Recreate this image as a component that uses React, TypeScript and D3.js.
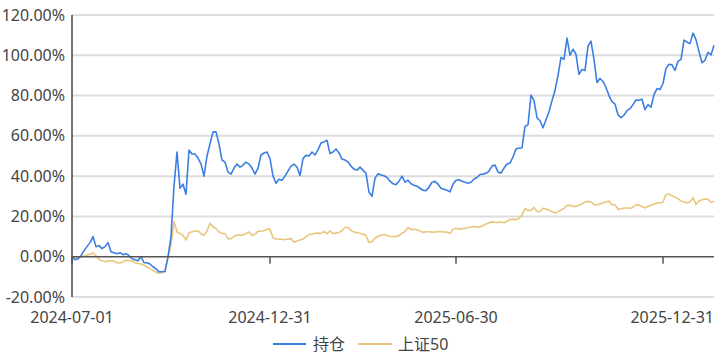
import React from "react";
import * as d3 from "d3";

const holdings: number[] = [
  0, -1.5, -1, 0.5, 3, 5, 7, 10, 5, 5.5, 4, 5, 7, 2.5, 2, 1.5, 2, 1, 1.5, 0.5,
  -1, -1.5, -2, 0, -3, -3, -3.6, -5, -6, -7.5, -7.5, -7.4, 0, 10, 35, 52, 34, 36, 31, 53,
  51, 51, 49, 46, 40, 50, 56, 62, 62, 56, 48, 47, 42, 41, 44, 46, 44.5, 45.5, 47, 46,
  44, 41, 44, 50.5, 51.5, 52, 48.7, 40, 36.5, 38.5, 38, 40, 42.5, 45, 46, 44.5, 40.3, 48.7, 50.3, 50,
  52, 50.5, 53, 56.5, 57, 57.8, 51.2, 52, 53.5, 51.5, 48.5, 48, 47, 45, 43.5, 43, 44.5, 43, 41.5, 32,
  30, 39, 41.2, 40.6, 40.2, 39.3, 37.5, 36.2, 35.7, 37.5, 40, 37, 38, 36.2, 35.5, 35, 34, 33, 32.8, 34.5,
  37, 37.4, 36, 34, 33.5, 33, 32.2, 36, 38, 38.2, 37.5, 37, 36.5, 37, 38.6, 39.3, 40.8, 41, 41.4, 42.5,
  45, 45.5, 42, 41.5, 44, 46, 46.5, 49.5, 53.5, 54, 54, 64.7, 65.5, 80.2, 77.5, 69, 67.5, 64, 68, 72,
  77.5, 82.5, 90, 99, 98, 108.5, 100, 103, 100.5, 90.5, 93, 92.5, 104.5, 107, 98, 86.5, 88.5, 87, 84, 80,
  77, 75.8, 70.5, 69, 70.3, 72.5, 73.5, 75.5, 77.8, 77.7, 78.2, 73, 75.5, 74.2, 80.5, 83.5, 83, 86, 93.5, 95.5,
  95.3, 92.5, 97, 98, 107.5, 106.5, 105.8, 111, 107.8, 101.8, 96.3, 97.5, 101.5, 100.2, 105,
];

const sse50: number[] = [
  0, -0.6, -0.7, -0.3, 0.4, 0.8, 1.2, 2, 0.4, -1.2, -2, -2.5, -2, -2.1, -2.2, -3, -3.1, -2.5, -1.8, -1.9,
  -2.1, -3, -3.4, -3.6, -4.2, -5, -5.9, -6.7, -7.7, -8.2, -7.8, -6.5, -0.5, 6, 17.5, 12.3, 11.6, 10.6, 8.3, 11.8,
  12.4, 12.9, 12.8, 11.4, 10.6, 12.8, 16.6, 15, 13.9, 12.3, 11.5, 11.5, 9, 9, 10, 10.8, 10.7, 10.8, 11.5, 12.3,
  10.5, 11.2, 12.6, 12.8, 12.9, 13.7, 13.7, 9.4, 8.8, 8.7, 8.7, 8.4, 8.8, 9, 7.2, 7.8, 8.3, 8.7, 10, 11,
  11.2, 11.6, 11.7, 11.6, 12.5, 11.4, 12.8, 11.4, 11.8, 12, 13, 14.5, 14.5, 13.1, 12.2, 12, 11.6, 11.2, 10.5, 7,
  7.5, 9.2, 10, 10.8, 11, 10.5, 10.2, 10, 10.1, 10.5, 11.7, 12.5, 14.5, 13.5, 13.6, 13.4, 12.7, 12.1, 12.4, 12.4,
  12.2, 12.3, 12.4, 12.5, 12.3, 12.2, 11.7, 13.5, 14.1, 13.8, 13.8, 14.1, 14.4, 14.8, 15, 14.8, 14.7, 15.5, 16.2, 16.8,
  17.3, 17.1, 17, 17.4, 16.9, 17.6, 18.4, 18.6, 18.4, 19.1, 20.5, 24, 23, 23, 24.5, 22.5, 22.3, 24.1, 23.7, 23.2,
  22.4, 21.7, 22.4, 23.2, 23.9, 25.5, 25.5, 25, 25, 25.5, 26.3, 27.1, 27.5, 27.2, 25.8, 25.8, 26.2, 26.8, 27.2, 27.6,
  25.8, 25.8, 23.5, 23.8, 24.2, 24.2, 24, 24.5, 25.8, 25.6, 25, 24.2, 24.9, 25.6, 26.2, 26.7, 26.7, 27, 31, 31,
  30.3, 29.6, 28.8, 27.7, 27.1, 26.8, 27.1, 29.3, 26, 27.7, 28.3, 28.7, 28.4, 27, 27.5,
];

const xTickLabels: string[] = ["2024-07-01", "2024-12-31", "2025-06-30", "2025-12-31"];
const xTickIndex: number[] = [0, 66, 128, 197];
const yTicks: number[] = [-20, 0, 20, 40, 60, 80, 100, 120];

const seriesNames = ["持仓", "上证50"];
const seriesColors = ["#3b7ee3", "#e8c67d"];

const W = 720;
const H = 360;
const left = 72;
const right = 714;
const top = 15;
const bottom = 297;
const FONT = "'Noto Sans', 'Noto Sans CJK SC', sans-serif";

export default function App() {
  const n = holdings.length;
  const x = d3.scaleLinear().domain([0, n - 1]).range([left, right]);
  const y = d3.scaleLinear().domain([-20, 120]).range([bottom, top]);
  const line = d3
    .line<number>()
    .x((_, i) => x(i))
    .y((d) => y(d));

  const y0 = y(0);

  return (
    <svg
      width={W}
      height={H}
      style={{ position: "absolute", left: 0, top: 0, background: "#fff" }}
      fontFamily={FONT}
    >
      {yTicks.map((t) =>
        t === 0 ? null : (
          <line key={"g" + t} x1={left} x2={right} y1={y(t)} y2={y(t)} stroke="#dcdcdc" strokeWidth={2} />
        )
      )}
      {yTicks.map((t) => (
        <text
          key={"yl" + t}
          x={left - 7}
          y={y(t)}
          dy="0.35em"
          textAnchor="end"
          fontSize={16}
          fill="#444"
        >
          {t.toFixed(2) + "%"}
        </text>
      ))}
      <line x1={left} x2={left} y1={top} y2={bottom} stroke="#444" strokeWidth={1.5} />

      <path d={line(sse50) || ""} fill="none" stroke={seriesColors[1]} strokeWidth={1.6} strokeLinejoin="round" />
      <path d={line(holdings) || ""} fill="none" stroke={seriesColors[0]} strokeWidth={1.6} strokeLinejoin="round" />

      <line x1={left} x2={right} y1={y0} y2={y0} stroke="#555" strokeWidth={1.5} />
      {xTickIndex.map((idx, k) => (
        <line key={"xt" + k} x1={x(idx)} x2={x(idx)} y1={y0} y2={y0 + 7} stroke="#555" strokeWidth={1.5} />
      ))}
      {xTickIndex.map((idx, k) => {
        const last = k === xTickIndex.length - 1;
        return (
          <text
            key={"xl" + k}
            x={last ? right : x(idx)}
            y={323}
            textAnchor={last ? "end" : "middle"}
            fontSize={16}
            fill="#444"
          >
            {xTickLabels[k]}
          </text>
        );
      })}

      {/* legend */}
      <g>
        <line x1={273} x2={306} y1={344} y2={344} stroke={seriesColors[0]} strokeWidth={2} />
        <text x={313} y={344} dy="0.35em" fontSize={16} fill="#444">
          {seriesNames[0]}
        </text>
        <line x1={358} x2={392} y1={344} y2={344} stroke={seriesColors[1]} strokeWidth={2} />
        <text x={398} y={344} dy="0.35em" fontSize={16} fill="#444">
          {seriesNames[1]}
        </text>
      </g>
    </svg>
  );
}
